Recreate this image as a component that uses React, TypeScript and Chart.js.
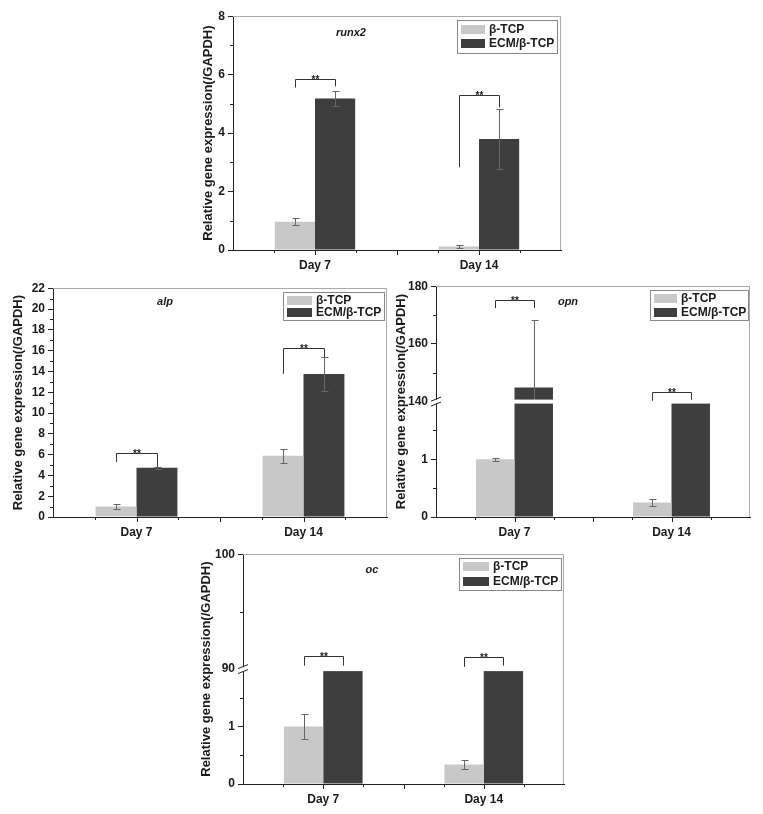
import React, { useEffect, useRef } from "react";
import { Chart, registerables } from "chart.js";

Chart.register(...registerables);

// ---------- data ----------
const days = ["Day 7", "Day 14"];
const seriesNames = ["β-TCP", "ECM/β-TCP"];
const yAxisTitle = "Relative gene expression(/GAPDH)";

// runx2
const runx2Tcp = [0.97, 0.12];
const runx2TcpErr = [0.11, 0.04];
const runx2Ecm = [5.18, 3.8];
const runx2EcmErr = [0.25, 1.03];
const runx2SigTop = [5.85, 5.3];
const runx2SigLeft = [5.56, 2.83];
const runx2SigRight = [5.6, 4.88];
const runx2Range = [0, 8];
const runx2Minor = [1, 3, 5, 7];

// alp
const alpTcp = [1.0, 5.88];
const alpTcpErr = [0.22, 0.64];
const alpEcm = [4.74, 13.74];
const alpEcmErr = [0.08, 1.65];
const alpSigTop = [6.12, 16.27];
const alpSigLeft = [5.28, 13.77];
const alpSigRight = [4.77, 15.37];
const alpRange = [0, 22];
const alpMinor = [1, 3, 5, 7, 9, 11, 13, 15, 17, 19, 21];

// opn (broken axis)
const opnTcp = [1.0, 0.25];
const opnTcpErr = [0.03, 0.06];
const opnEcm = [144.9, 120]; // Day 14 value lies inside the axis break
const opnEcmErr = [23.3, null];
const opnSigTop = [175.2, 143.3];
const opnSigLeft = [172.4, 140.3];
const opnSigRight = [172.4, 140.6];
const opnLowRange = [0, 2];
const opnHighRange = [140, 180];
const opnLowMinor = [0.5, 1.5];
const opnHighMinor = [150, 170];

// oc (broken axis)
const ocTcp = [1.0, 0.34];
const ocTcpErr = [0.22, 0.08];
const ocEcm = [50, 50]; // values lie inside the axis break
const ocEcmErr = [null, null];
const ocSigTop = [91.1, 91.05];
const ocSigLeft = [90.3, 90.2];
const ocSigRight = [90.3, 90.3];
const ocLowRange = [0, 2];
const ocHighRange = [90, 100];
const ocLowMinor = [0.5, 1.5];
const ocHighMinor = [95];

// ---------- styles ----------
const FONT = '"Liberation Sans", Arial, Helvetica, sans-serif';
const BAR_COLORS = ["#c8c8c8", "#3e3e3e"];
const AXIS = "#222222";
const TEXT = "#1a1a1a";
const PAD_L = 50;
const PAD_T = 10;
const PAD_R = 10;
const PAD_B = 30;

type Cfg = {
  gene: string;
  tcp: number[];
  tcpErr: (number | null)[];
  ecm: number[];
  ecmErr: (number | null)[];
  sigTop: number[];
  sigLeft: number[];
  sigRight: number[];
  low: number[];
  lowStep: number;
  lowMinor: number[];
  high: number[] | null;
  highStep: number;
  highMinor: number[];
  area: { l: number; t: number; r: number; b: number };
  geneDx: number;
  geneDy: number;
  yTitleDx: number;
  legend: { right: number; top: number; w: number; h: number; rowH: number; sw: number };
};

const panels: Cfg[] = [
  {
    gene: "runx2",
    tcp: runx2Tcp, tcpErr: runx2TcpErr, ecm: runx2Ecm, ecmErr: runx2EcmErr,
    sigTop: runx2SigTop, sigLeft: runx2SigLeft, sigRight: runx2SigRight,
    low: runx2Range, lowStep: 2, lowMinor: runx2Minor,
    high: null, highStep: 0, highMinor: [],
    area: { l: 233, t: 16, r: 561, b: 250 },
    geneDx: 118, geneDy: 17, yTitleDx: 25,
    legend: { right: 4, top: 4, w: 100, h: 33, rowH: 14, sw: 24 },
  },
  {
    gene: "alp",
    tcp: alpTcp, tcpErr: alpTcpErr, ecm: alpEcm, ecmErr: alpEcmErr,
    sigTop: alpSigTop, sigLeft: alpSigLeft, sigRight: alpSigRight,
    low: alpRange, lowStep: 2, lowMinor: alpMinor,
    high: null, highStep: 0, highMinor: [],
    area: { l: 53, t: 288, r: 387, b: 517 },
    geneDx: 112, geneDy: 14, yTitleDx: 35,
    legend: { right: 3, top: 4, w: 101, h: 28, rowH: 12, sw: 25 },
  },
  {
    gene: "opn",
    tcp: opnTcp, tcpErr: opnTcpErr, ecm: opnEcm, ecmErr: opnEcmErr,
    sigTop: opnSigTop, sigLeft: opnSigLeft, sigRight: opnSigRight,
    low: opnLowRange, lowStep: 1, lowMinor: opnLowMinor,
    high: opnHighRange, highStep: 20, highMinor: opnHighMinor,
    area: { l: 436, t: 286, r: 750, b: 517 },
    geneDx: 132, geneDy: 16, yTitleDx: 35,
    legend: { right: 2, top: 4, w: 98, h: 30, rowH: 14, sw: 23 },
  },
  {
    gene: "oc",
    tcp: ocTcp, tcpErr: ocTcpErr, ecm: ocEcm, ecmErr: ocEcmErr,
    sigTop: ocSigTop, sigLeft: ocSigLeft, sigRight: ocSigRight,
    low: ocLowRange, lowStep: 1, lowMinor: ocLowMinor,
    high: ocHighRange, highStep: 10, highMinor: ocHighMinor,
    area: { l: 243, t: 554, r: 564, b: 784 },
    geneDx: 129, geneDy: 16, yTitleDx: 37,
    legend: { right: 3, top: 4, w: 102, h: 32, rowH: 15, sw: 26 },
  },
];

function makeDecor(cfg: Cfg) {
  return {
    id: "decor",
    afterDatasetsDraw(chart: any) {
      const ctx: CanvasRenderingContext2D = chart.ctx;
      const a = chart.chartArea;
      const xs = chart.scales.x;
      const yl = chart.scales.yLow;
      const yh = chart.scales.yHigh;
      const scaleFor = (v: number) => (yh && v >= yh.min ? yh : yl);
      const m0 = chart.getDatasetMeta(0);
      const m1 = chart.getDatasetMeta(1);
      const crisp = (p: number) => Math.round(p) + 0.5;

      ctx.save();
      // error bars
      ctx.strokeStyle = "#666";
      ctx.lineWidth = 1;
      const groups: [number[], (number | null)[], any][] = [
        [cfg.tcp, cfg.tcpErr, m0],
        [cfg.ecm, cfg.ecmErr, m1],
      ];
      groups.forEach(([vals, errs, meta]) => {
        vals.forEach((v, i) => {
          const e = errs[i];
          if (e == null) return;
          const s = scaleFor(v);
          const bx = crisp(meta.data[i].x);
          const top = v + e;
          const bot = v - e;
          const pT = crisp(s.getPixelForValue(Math.min(top, s.max)));
          const pB = crisp(s.getPixelForValue(Math.max(bot, s.min)));
          ctx.beginPath();
          ctx.moveTo(bx, pT);
          ctx.lineTo(bx, pB);
          if (top <= s.max) {
            ctx.moveTo(bx - 3, pT);
            ctx.lineTo(bx + 4, pT);
          }
          if (bot >= s.min) {
            ctx.moveTo(bx - 3, pB);
            ctx.lineTo(bx + 4, pB);
          }
          ctx.stroke();
        });
      });

      // axis break
      if (yh) {
        const yb = yh.bottom;
        ctx.fillStyle = "#ffffff";
        ctx.fillRect(a.left - 2, yb - 2, a.right - a.left + 1, 4);
        ctx.strokeStyle = AXIS;
        ctx.beginPath();
        [-2.5, 2.5].forEach((d) => {
          ctx.moveTo(a.left - 5, yb + d + 2);
          ctx.lineTo(a.left + 5, yb + d - 2);
        });
        ctx.stroke();
      }

      // significance brackets
      ctx.strokeStyle = "#333";
      ctx.fillStyle = TEXT;
      ctx.font = `bold 10px ${FONT}`;
      ctx.textAlign = "center";
      ctx.textBaseline = "alphabetic";
      cfg.sigTop.forEach((t, i) => {
        const x0 = crisp(m0.data[i].x);
        const x1 = crisp(m1.data[i].x);
        const yT = crisp(scaleFor(t).getPixelForValue(t));
        const yL = scaleFor(cfg.sigLeft[i]).getPixelForValue(cfg.sigLeft[i]);
        const yR = scaleFor(cfg.sigRight[i]).getPixelForValue(cfg.sigRight[i]);
        ctx.beginPath();
        ctx.moveTo(x0, yL);
        ctx.lineTo(x0, yT);
        ctx.lineTo(x1, yT);
        ctx.lineTo(x1, yR);
        ctx.stroke();
        ctx.fillText("**", (x0 + x1) / 2, yT + 3);
      });

      // legend
      const L = cfg.legend;
      const bx = Math.round(a.right - L.right - L.w);
      const by = Math.round(a.top + L.top);
      ctx.strokeStyle = "#888";
      ctx.strokeRect(bx + 0.5, by + 0.5, L.w, L.h);
      ctx.font = `bold 12px ${FONT}`;
      ctx.textAlign = "left";
      ctx.textBaseline = "middle";
      seriesNames.forEach((n, k) => {
        const cy = by + L.h / 2 + (k - 0.5) * L.rowH;
        ctx.fillStyle = BAR_COLORS[k];
        ctx.fillRect(bx + 4, Math.round(cy - 4.5), L.sw, 9);
        ctx.fillStyle = TEXT;
        ctx.fillText(n, bx + 4 + L.sw + 4, cy + 0.5);
      });

      // gene label
      ctx.font = `italic bold 11px ${FONT}`;
      ctx.textAlign = "center";
      ctx.fillStyle = TEXT;
      ctx.fillText(cfg.gene, a.left + cfg.geneDx, a.top + cfg.geneDy);

      // minor y ticks
      ctx.strokeStyle = AXIS;
      ctx.beginPath();
      const minorY = (s: any, list: number[]) =>
        list.forEach((v) => {
          const p = crisp(s.getPixelForValue(v));
          ctx.moveTo(a.left - 3, p);
          ctx.lineTo(a.left, p);
        });
      minorY(yl, cfg.lowMinor);
      if (yh) minorY(yh, cfg.highMinor);
      // x ticks
      const n = xs.getLabels().length;
      const cw = (a.right - a.left) / n;
      for (let i = 0; i < n; i++) {
        const c = xs.getPixelForValue(i);
        const major = [c];
        if (i < n - 1) major.push(c + cw / 2);
        major.forEach((p) => {
          ctx.moveTo(crisp(p), a.bottom);
          ctx.lineTo(crisp(p), a.bottom + 5);
        });
        [c - cw / 4, c + cw / 4].forEach((p) => {
          ctx.moveTo(crisp(p), a.bottom);
          ctx.lineTo(crisp(p), a.bottom + 3);
        });
      }
      ctx.stroke();

      // frame (top, right)
      ctx.strokeStyle = "#aaaaaa";
      ctx.beginPath();
      ctx.moveTo(a.left, crisp(a.top));
      ctx.lineTo(a.right, crisp(a.top));
      ctx.moveTo(Math.round(a.right) - 0.5, a.top);
      ctx.lineTo(Math.round(a.right) - 0.5, a.bottom);
      ctx.stroke();

      // y title
      ctx.save();
      ctx.translate(a.left - cfg.yTitleDx, (a.top + a.bottom) / 2);
      ctx.rotate(-Math.PI / 2);
      ctx.font = `bold 13px ${FONT}`;
      ctx.textAlign = "center";
      ctx.textBaseline = "middle";
      ctx.fillStyle = TEXT;
      ctx.fillText(yAxisTitle, 0, 0);
      ctx.restore();

      ctx.restore();
    },
  };
}

function buildConfig(cfg: Cfg): any {
  const broken = !!cfg.high;
  const lowMax = cfg.low[1];
  const mk = (label: string, data: any[], k: number, yAxisID: string) => ({
    label,
    data,
    backgroundColor: BAR_COLORS[k],
    borderWidth: 0,
    stack: "s" + k,
    yAxisID,
    categoryPercentage: 0.49,
    barPercentage: 1,
  });
  const datasets: any[] = [
    mk(seriesNames[0], cfg.tcp.map((v) => (broken ? Math.min(v, lowMax) : v)), 0, "yLow"),
    mk(seriesNames[1], cfg.ecm.map((v) => (broken ? Math.min(v, lowMax) : v)), 1, "yLow"),
  ];
  if (broken) {
    const hMin = (cfg.high as number[])[0];
    datasets.push(mk(seriesNames[0], cfg.tcp.map((v) => (v > hMin ? [hMin, v] : null)), 0, "yHigh"));
    datasets.push(mk(seriesNames[1], cfg.ecm.map((v) => (v > hMin ? [hMin, v] : null)), 1, "yHigh"));
  }
  const tickFont = { family: FONT, size: 12, weight: "bold" };
  const yScale = (min: number, max: number, step: number, extra: any) => ({
    type: "linear",
    position: "left",
    min,
    max,
    stacked: false,
    grid: {
      drawOnChartArea: false,
      drawTicks: true,
      tickLength: 5,
      tickWidth: 1,
      tickColor: AXIS,
    },
    border: { color: AXIS, width: 1 },
    ticks: {
      stepSize: step,
      font: tickFont,
      color: TEXT,
      padding: 3,
      callback: (v: number) => String(v),
    },
    afterFit: (s: any) => {
      s.width = PAD_L;
    },
    ...extra,
  });
  const scales: any = {
    x: {
      type: "category",
      offset: true,
      grid: { drawOnChartArea: false, drawTicks: false },
      border: { color: AXIS, width: 1 },
      ticks: { font: { family: FONT, size: 12, weight: "bold" }, color: TEXT, padding: 8 },
      afterFit: (s: any) => {
        s.height = PAD_B;
      },
    },
  };
  if (broken) {
    const hi = cfg.high as number[];
    scales.yLow = yScale(cfg.low[0], cfg.low[1], cfg.lowStep, {
      stack: "y",
      stackWeight: 1,
      weight: 0,
    });
    scales.yLow.ticks.callback = (v: number) => (v >= lowMax ? null : String(v));
    scales.yHigh = yScale(hi[0], hi[1], cfg.highStep, {
      stack: "y",
      stackWeight: 1,
      weight: 1,
    });
    scales.yHigh.grid.tickColor = (c: any) =>
      c.tick && c.tick.value === hi[0] ? "rgba(0,0,0,0)" : AXIS;
  } else {
    scales.yLow = yScale(cfg.low[0], cfg.low[1], cfg.lowStep, {});
  }
  return {
    type: "bar",
    data: { labels: days, datasets },
    options: {
      responsive: false,
      animation: false,
      events: [],
      layout: { padding: { left: 0, top: PAD_T, right: PAD_R, bottom: 0 } },
      plugins: { legend: { display: false }, tooltip: { enabled: false }, title: { display: false } },
      scales,
    },
    plugins: [makeDecor(cfg)],
  };
}

function Panel({ cfg }: { cfg: Cfg }) {
  const ref = useRef<HTMLCanvasElement>(null);
  const w = cfg.area.r - cfg.area.l + PAD_L + PAD_R;
  const h = cfg.area.b - cfg.area.t + PAD_T + PAD_B;
  useEffect(() => {
    const chart = new Chart(ref.current as HTMLCanvasElement, buildConfig(cfg));
    return () => chart.destroy();
  }, [cfg]);
  return (
    <canvas
      ref={ref}
      width={w}
      height={h}
      style={{ position: "absolute", left: cfg.area.l - PAD_L, top: cfg.area.t - PAD_T, width: w, height: h }}
    />
  );
}

export default function App() {
  return (
    <div
      style={{
        position: "absolute",
        left: 0,
        top: 0,
        width: 763,
        height: 814,
        background: "#ffffff",
        overflow: "hidden",
      }}
    >
      {panels.map((p) => (
        <Panel key={p.gene} cfg={p} />
      ))}
    </div>
  );
}
